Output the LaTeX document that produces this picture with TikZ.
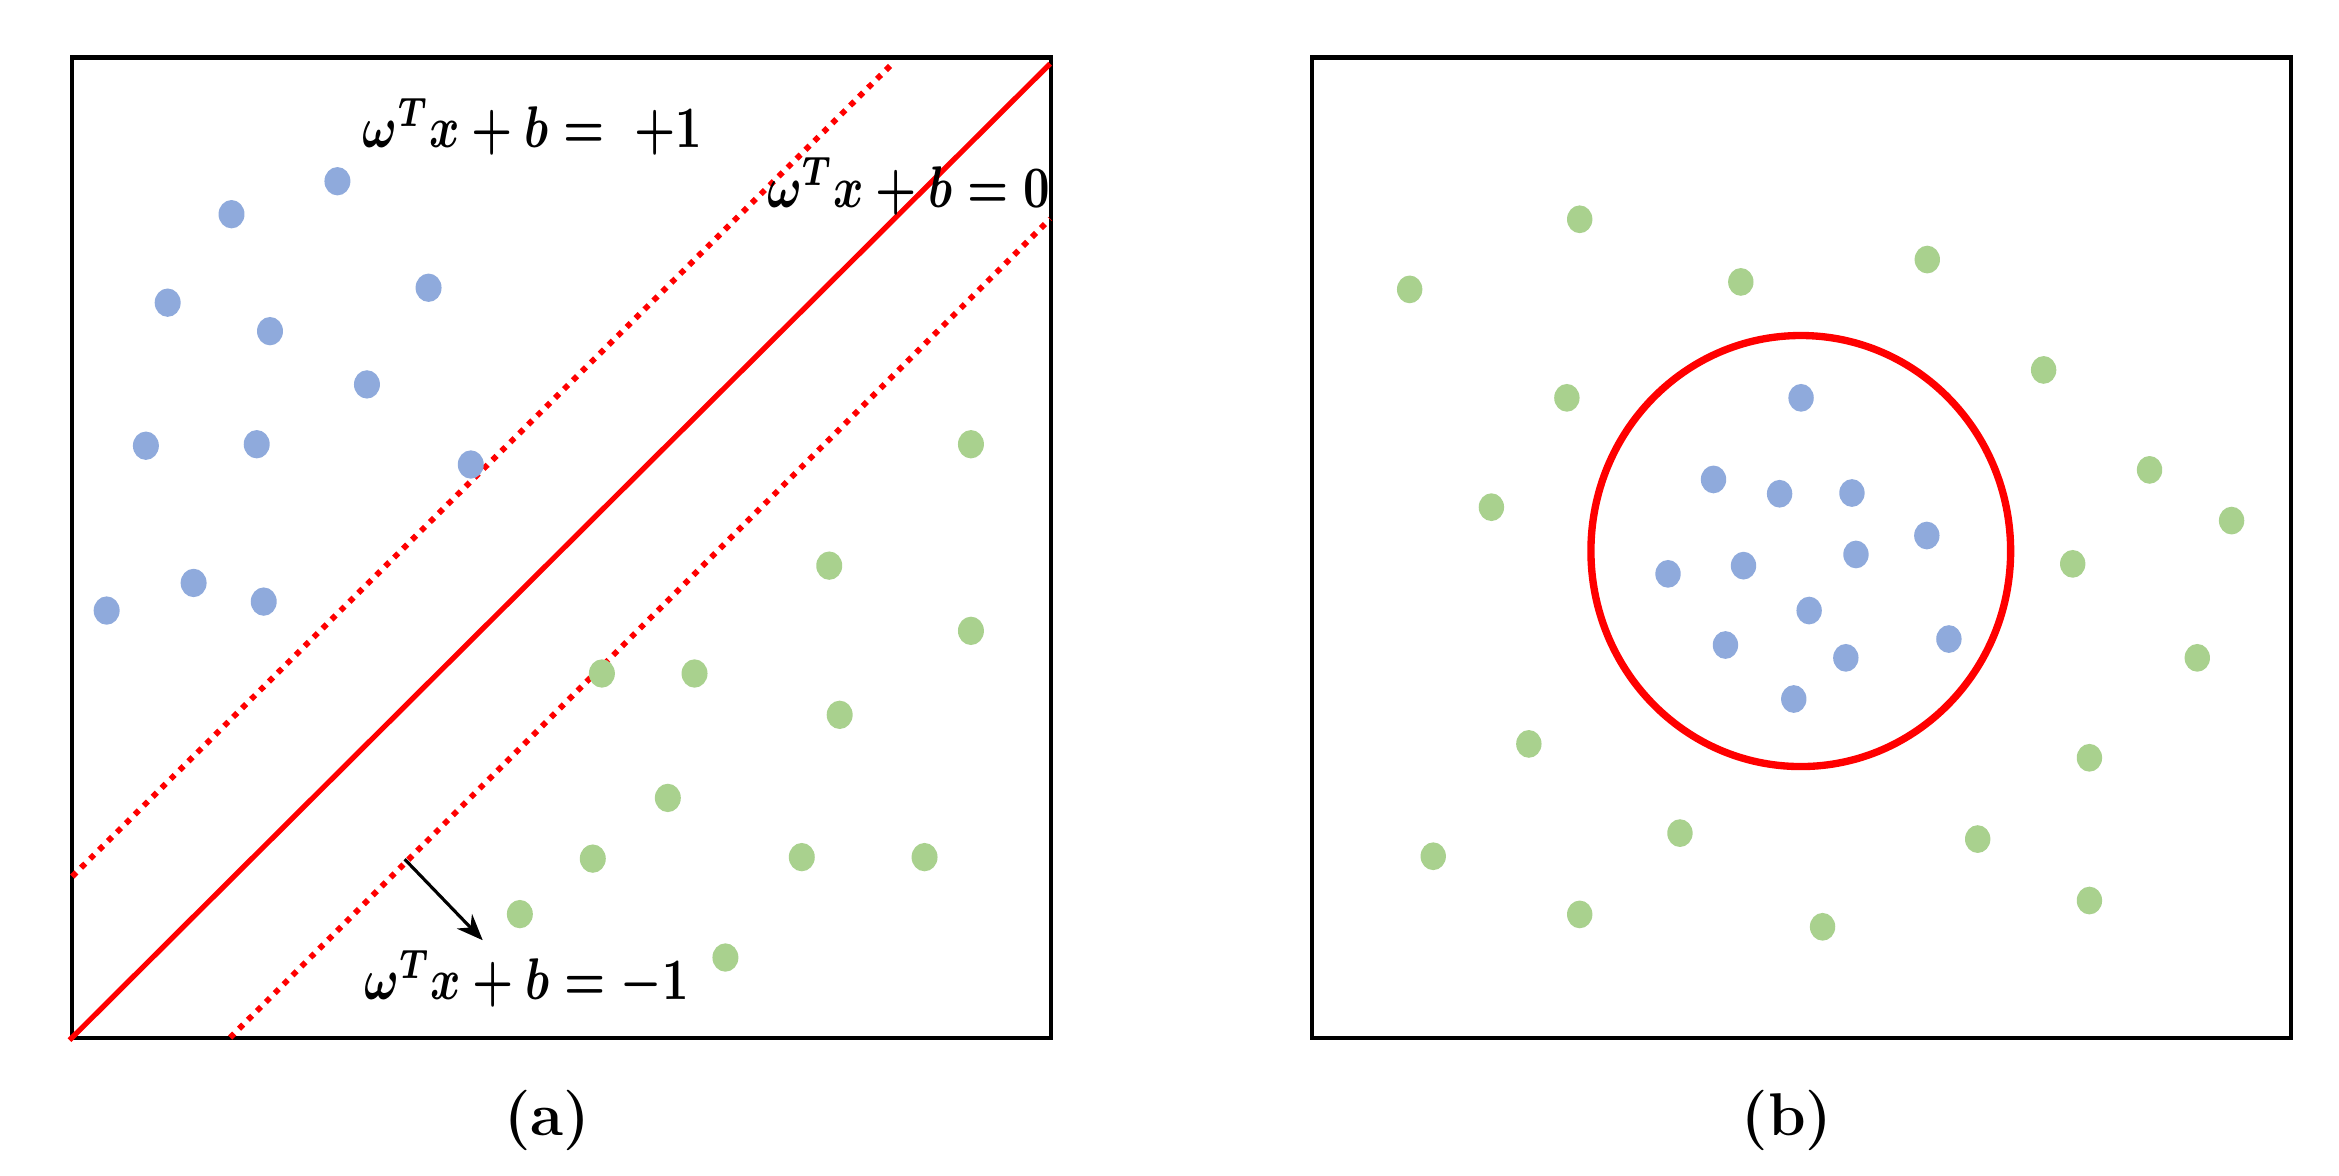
\documentclass[tikz,border=0pt]{standalone}
\usepackage{graphicx}
\usetikzlibrary{arrows.meta}
\definecolor{dotblue}{HTML}{8FAADC}
\definecolor{dotgreen}{HTML}{A9D18E}
\definecolor{svmred}{HTML}{FF0000}
\newcommand{\eqtext}[1]{\scalebox{0.88}[1.12]{#1}}
\begin{document}
\begin{tikzpicture}[x=0.01cm,y=-0.01cm,
  frame/.style={draw=black,line width=0.8pt},
  bdot/.style={fill=dotblue},
  gdot/.style={fill=dotgreen},
  hyper/.style={draw=svmred,line width=1pt},
  margin/.style={draw=svmred,line width=1.1pt,dash pattern=on 1.1pt off 1.3pt},
  eqlabel/.style={font=\fontsize{9.8}{12}\selectfont\boldmath,inner sep=0pt},
  caplabel/.style={font=\fontsize{11.5}{14}\selectfont\bfseries,inner sep=0pt}]
\useasboundingbox (0,0) rectangle (1568,788);
\fill[white] (0,0) rectangle (1568,788);
% ---------- panel (a)
\node[frame,minimum width=6.56cm,minimum height=6.57cm,inner sep=0pt] (boxa) at (376.2,367.2) {};
\draw[hyper] (boxa.south west) -- (704,42.7);
\draw[margin] (48.4,587.6) -- (598.2,42.7);
\draw[margin] (154.3,695.6) -- (704,146.7);
\coordinate (arrS) at (271.3,576);
\coordinate (arrE) at (323.6,630.3);
\draw[-{Stealth[length=5pt,width=4pt]},line width=0.6pt] (arrS) -- (arrE);
\foreach \p in {(226.2,121.5),(155.2,143.6),(112.4,202.9),(181,222),(287.3,192.9),(246,257.7),(97.8,298.8),(172.1,297.8),(315.6,311.4),(129.8,390.8),(71.5,409.3),(176.8,403.3)}
  \fill[bdot] \p ellipse [x radius=0.087cm,y radius=0.095cm];
\foreach \p in {(650.9,297.8),(555.9,379.2),(650.9,422.9),(403.5,451.5),(465.6,451.5),(562.9,479.2),(447.7,534.9),(397.4,575.6),(537.5,574.6),(619.8,574.6),(348.5,612.8),(486.3,641.9)}
  \fill[gdot] \p ellipse [x radius=0.087cm,y radius=0.095cm];
\node[eqlabel] (eqp) at (357,85) {\eqtext{$\omega^T x + b =\ +1$}};
\node[eqlabel] (eqz) at (609,125) {\eqtext{$\omega^T x + b = 0$}};
\node[eqlabel] (eqm) at (353,656) {\eqtext{$\omega^T x + b = -1$}};
\node[caplabel] (capa) at (367,751) {(a)};
% ---------- panel (b)
\node[frame,minimum width=6.56cm,minimum height=6.57cm,inner sep=0pt] (boxb) at (1207.8,367.2) {};
\draw[svmred,line width=1.4pt] (1207.2,369.4) ellipse [x radius=1.406cm,y radius=1.444cm];
\foreach \p in {(1207.4,266.7),(1148.7,321.4),(1193,331),(1241.5,330.5),(1291.7,359),(1118.2,384.7),(1168.8,379.2),(1244.2,371.7),(1212.8,409.3),(1156.7,432.4),(1237.4,441),(1306.5,428.4),(1202.5,468.6)}
  \fill[bdot] \p ellipse [x radius=0.085cm,y radius=0.093cm];
\foreach \p in {(945,194),(1059,147),(1167,189),(1292,174),(1050.4,266.7),(1370,248),(1441,315),(999.8,340),(1496,349),(1389.5,378),(1473,441),(1024.9,498.7),(1400.7,508),(960.8,574),(1126.2,558.5),(1325.8,562.5),(1059,613),(1221.8,621.3),(1400.7,603.7)}
  \fill[gdot] \p ellipse [x radius=0.085cm,y radius=0.093cm];
\node[caplabel] (capb) at (1198,751) {(b)};
\end{tikzpicture}
\end{document}
